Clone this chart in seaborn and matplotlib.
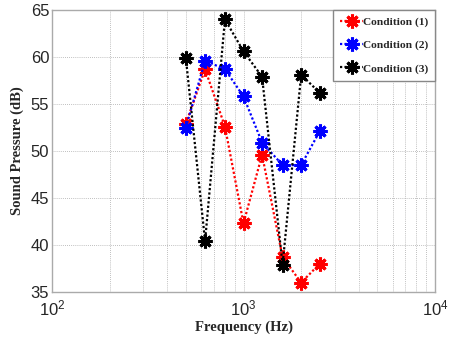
import matplotlib
matplotlib.use("Agg")
import matplotlib.pyplot as plt
import seaborn as sns
import pandas as pd
import numpy as np
from matplotlib.ticker import LogLocator, NullFormatter

freq = [500, 630, 800, 1000, 1250, 1600, 2000, 2500]
cond1 = [52.9, 58.7, 52.6, 42.3, 49.6, 38.7, 36.0, 38.0]
cond2 = [52.5, 59.6, 58.7, 55.8, 50.9, 48.5, 48.5, 52.1]
cond3 = [59.9, 40.4, 64.0, 60.6, 57.9, 37.9, 58.1, 56.2]
labels = ["Condition (1)", "Condition (2)", "Condition (3)"]
colors = ["#ff0000", "#0000ff", "#000000"]

sns.set_style("white")
plt.rcParams['font.family'] = ['Liberation Sans', 'DejaVu Sans']

fig = plt.figure(figsize=(4.51, 3.37), dpi=100)
ax = fig.add_axes([52/451, 1 - 292/337, (435 - 52)/451, (292 - 10)/337])

for vals, lab, col in zip([cond1, cond2, cond3], labels, colors):
    df = pd.DataFrame({"Frequency": freq, "SPL": vals})
    sns.lineplot(data=df, x="Frequency", y="SPL", ax=ax, color=col, label=lab,
                 linestyle=(0, (1, 1)), linewidth=1.6, marker=(8, 2, 0),
                 markersize=10, markeredgewidth=2.2, markeredgecolor=col)

ax.set_xscale("log")
ax.set_xlim(100, 10000)
ax.set_ylim(35, 65)
ax.set_yticks([35, 40, 45, 50, 55, 60, 65])
ax.xaxis.set_minor_locator(LogLocator(base=10, subs=np.arange(2, 10), numticks=20))
ax.xaxis.set_minor_formatter(NullFormatter())
ax.grid(True, which="major", axis="both", color="#aaaaaa", linestyle=(0, (1, 1.5)), linewidth=0.6)
ax.grid(True, which="minor", axis="x", color="#aaaaaa", linestyle=(0, (1, 1.5)), linewidth=0.6)
ax.tick_params(axis="both", which="both", direction="in", labelsize=12, color="#777777")
ax.tick_params(axis="both", which="major", length=4)
ax.tick_params(axis="y", which="major", pad=2)
ax.tick_params(axis="x", which="major", pad=5)
ax.tick_params(axis="x", which="minor", length=2)
for s in ax.spines.values():
    s.set_color("#aaaaaa")
    s.set_linewidth(1.0)

ax.set_xlabel("Frequency (Hz)", fontfamily="Liberation Serif", fontweight="bold", fontsize=10.5, labelpad=1)
ax.set_ylabel("Sound Pressure (dB)", fontfamily="Liberation Serif", fontweight="bold", fontsize=10.5, labelpad=5)

leg = ax.legend(loc="upper right", borderaxespad=0, fancybox=False, framealpha=1,
                edgecolor="#888888", handlelength=2.0, handletextpad=0.0,
                labelspacing=1.15, borderpad=0.6,
                prop={"family": "Liberation Serif", "weight": "bold", "size": 8.2})
leg.get_frame().set_linewidth(1.0)

fig.savefig("out.png", dpi=100)
